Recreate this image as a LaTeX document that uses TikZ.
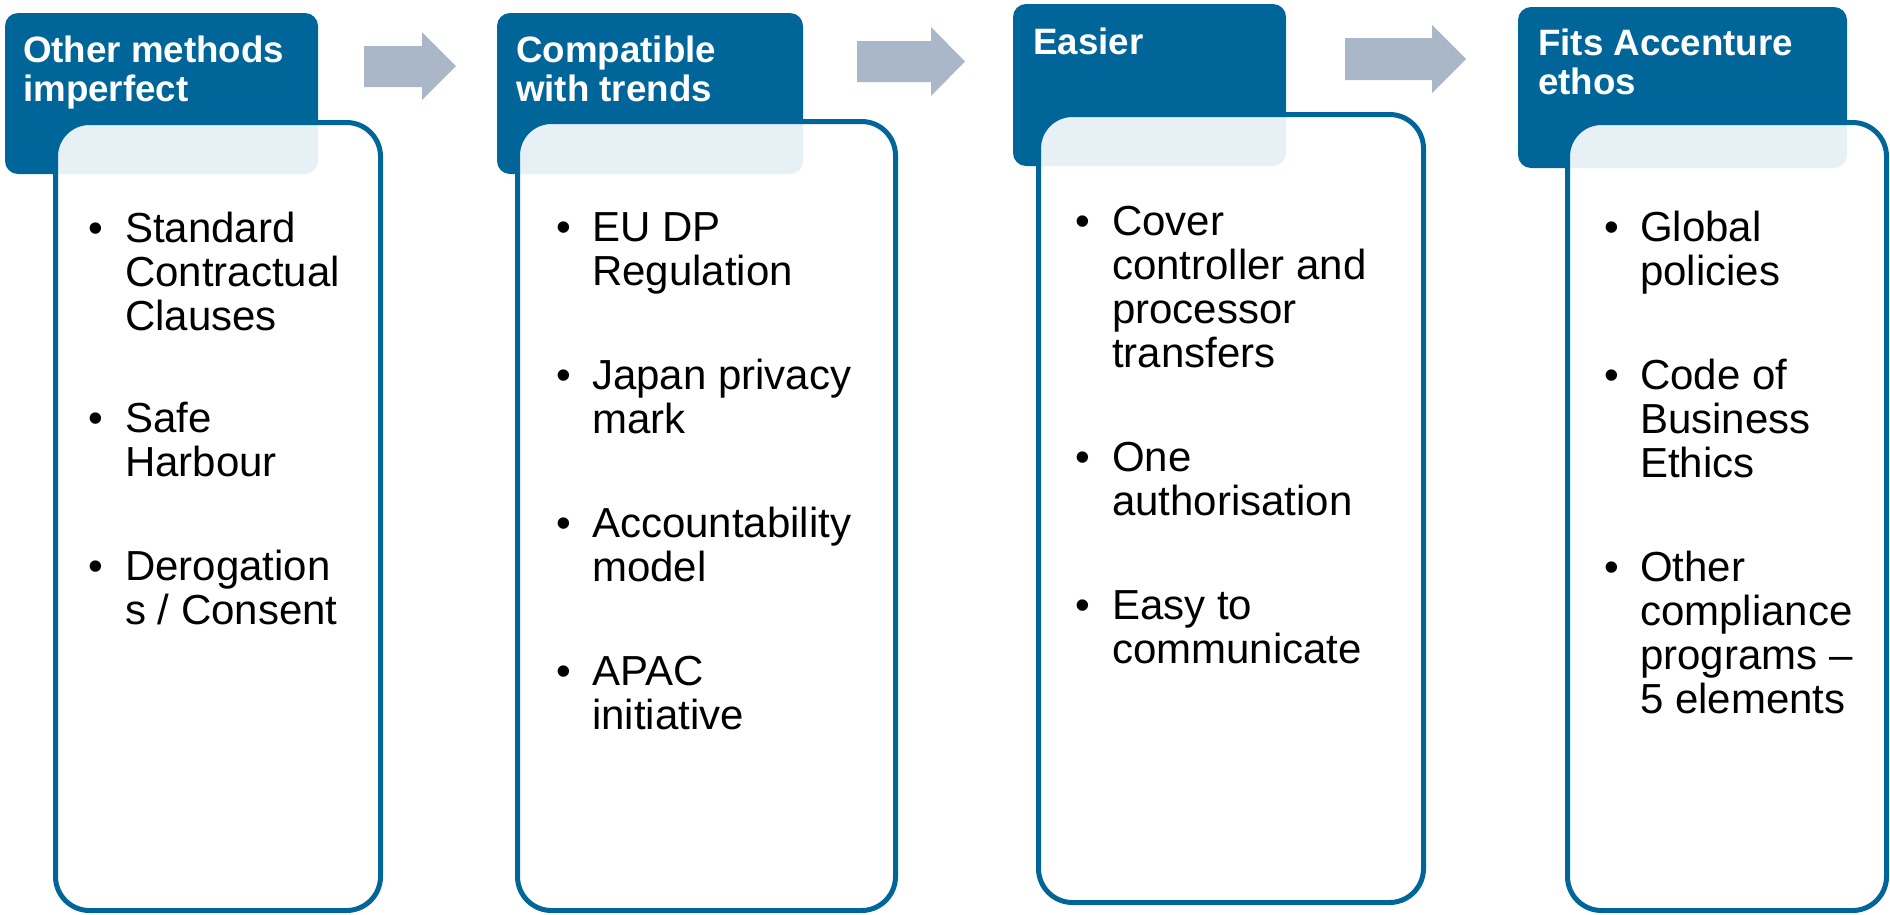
\documentclass[tikz,border=0pt]{standalone}
\usepackage{fontspec}
\setmainfont{Liberation Sans}
\definecolor{accblue}{RGB}{0,102,153}
\definecolor{arrowgray}{RGB}{170,183,200}
\newcommand\linesbox[1]{\parbox[t]{10cm}{\raggedright #1}}
\tikzset{
  headbox/.style={fill=accblue, draw=none, rounded corners=13pt},
  bodybox/.style={draw=accblue, line width=5pt, fill=white, fill opacity=0.9, rounded corners=34pt},
  headtext/.style={anchor=base west, inner sep=0pt, text=white, font=\bfseries\fontsize{36.7}{39}\selectfont},
  itemtext/.style={anchor=base west, inner sep=0pt, text=black, font=\fontsize{42}{44}\selectfont},
  bulletdot/.style={anchor=base, inner sep=0pt, text=black, font=\fontsize{42}{44}\selectfont},
  blockarrow/.style={fill=arrowgray, draw=none},
}
\begin{document}
\begin{tikzpicture}[x=1pt,y=-1pt]
\useasboundingbox (0,0) rectangle (1890,914);
% headers
\path[headbox] (5,13) rectangle (318,174);
\path[headbox] (497,13) rectangle (803,174);
\path[headbox] (1013,4) rectangle (1286,166);
\path[headbox] (1518,7) rectangle (1847,168);
\node[headtext] (h1) at (23,62) {\linesbox{Other methods\\imperfect}};
\node[headtext] (h2) at (516,62) {\linesbox{Compatible\\with trends}};
\node[headtext] (h3) at (1033,54) {\linesbox{Easier}};
\node[headtext] (h4) at (1538,55) {\linesbox{Fits Accenture\\ethos}};
% bodies
\path[bodybox] (55.5,122.5) rectangle (380.5,910.5);
\path[bodybox] (517.5,121.5) rectangle (895.5,910.5);
\path[bodybox] (1038.5,114.5) rectangle (1423.5,902.5);
\path[bodybox] (1567.5,122.5) rectangle (1886.5,910.5);
% column 1
\node[bulletdot] (b11) at (96,242) {•};
\node[itemtext] (t11) at (125,242) {\linesbox{Standard\\Contractual\\Clauses}};
\node[bulletdot] (b12) at (96,432) {•};
\node[itemtext] (t12) at (125,432) {\linesbox{Safe\\Harbour}};
\node[bulletdot] (b13) at (96,580) {•};
\node[itemtext] (t13) at (125,580) {\linesbox{Derogation\\s / Consent}};
% column 2
\node[bulletdot] (b21) at (564,241) {•};
\node[itemtext] (t21) at (592,241) {\linesbox{EU DP\\Regulation}};
\node[bulletdot] (b22) at (564,389) {•};
\node[itemtext] (t22) at (592,389) {\linesbox{Japan privacy\\mark}};
\node[bulletdot] (b23) at (564,537) {•};
\node[itemtext] (t23) at (592,537) {\linesbox{Accountability\\model}};
\node[bulletdot] (b24) at (564,685) {•};
\node[itemtext] (t24) at (592,685) {\linesbox{APAC\\initiative}};
% column 3
\node[bulletdot] (b31) at (1083,235) {•};
\node[itemtext] (t31) at (1112,235) {\linesbox{Cover\\controller and\\processor\\transfers}};
\node[bulletdot] (b32) at (1083,471) {•};
\node[itemtext] (t32) at (1112,471) {\linesbox{One\\authorisation}};
\node[bulletdot] (b33) at (1083,619) {•};
\node[itemtext] (t33) at (1112,619) {\linesbox{Easy to\\communicate}};
% column 4
\node[bulletdot] (b41) at (1612,241) {•};
\node[itemtext] (t41) at (1640,241) {\linesbox{Global\\policies}};
\node[bulletdot] (b42) at (1612,389) {•};
\node[itemtext] (t42) at (1640,389) {\linesbox{Code of\\Business\\Ethics}};
\node[bulletdot] (b43) at (1612,581) {•};
\node[itemtext] (t43) at (1640,581) {\linesbox{Other\\compliance\\programs –\\5 elements}};
% arrows
\fill[blockarrow] (364,46) -- (422,46) -- (422,32) -- (456,66) -- (422,100) -- (422,87) -- (364,87) -- cycle;
\fill[blockarrow] (857,41) -- (931,41) -- (931,27) -- (965,61.5) -- (931,96) -- (931,82) -- (857,82) -- cycle;
\fill[blockarrow] (1345,38) -- (1432,38) -- (1432,25) -- (1466,59) -- (1432,93) -- (1432,80) -- (1345,80) -- cycle;
\end{tikzpicture}
\end{document}
